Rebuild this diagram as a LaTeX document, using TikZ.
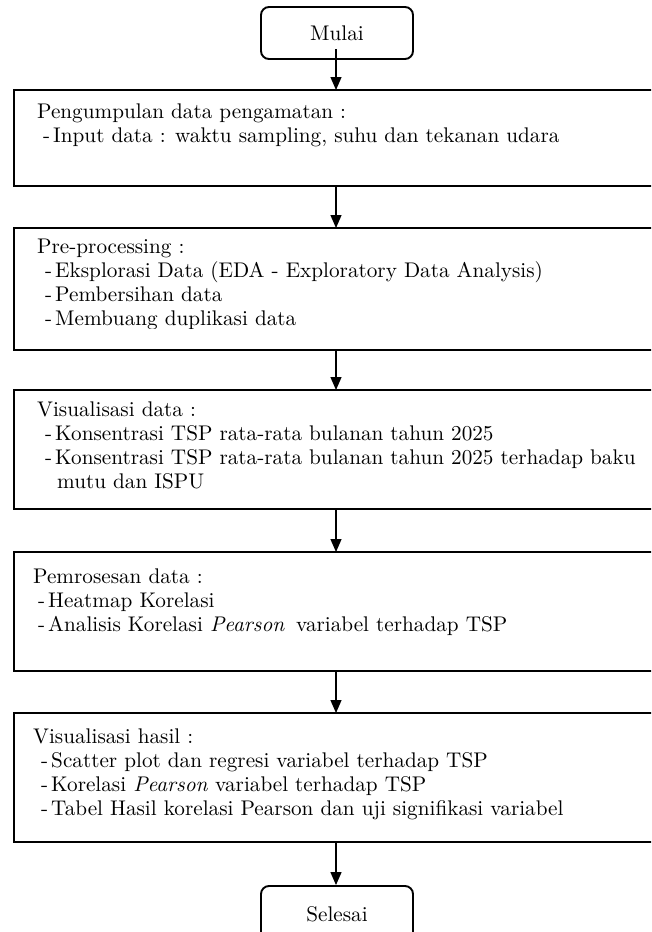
\documentclass[tikz,border=0pt]{standalone}
\usepackage{fontspec}
\setmainfont{lmroman10-regular.otf}[ItalicFont=lmroman10-italic.otf, BoldFont=lmroman10-bold.otf]
\usetikzlibrary{arrows.meta}
\begin{document}
\begin{tikzpicture}[x=1pt,y=-1pt,
  box/.style={draw, line width=1.9pt, rectangle, anchor=north west, inner sep=0pt, outer sep=0pt, minimum width=680pt},
  term/.style={draw, line width=1.9pt, rounded corners=8pt, minimum width=152pt, minimum height=52pt, inner sep=0pt, font=\fontsize{21.2}{24}\selectfont},
  txt/.style={anchor=base west, inner sep=0pt, font=\fontsize{21.2}{24}\selectfont},
  arr/.style={line width=1.3pt, -{Triangle[width=11pt,length=13pt]}}]
\useasboundingbox (0,0) rectangle (651,932);
\clip (0,0) rectangle (651,932);
\coordinate (ax) at (336,0);
% terminals
\node[term] (start) at (337,33) {Mulai};
\coordinate (s0) at (336,49);
\node[term, minimum height=60pt] (end) at (337,916) {\raisebox{3pt}{Selesai}};
% process boxes
\node[box, minimum height=96pt] (b1) at (14,90) {};
\node[box, minimum height=122pt] (b2) at (14,228) {};
\node[box, minimum height=119pt] (b3) at (14,390) {};
\node[box, minimum height=119pt] (b4) at (14,552) {};
\node[box, minimum height=129pt] (b5) at (14,713) {};
% texts box 1
\node[txt] (t11) at (37,118) {Pengumpulan data pengamatan :};
\node[txt] (t12) at (43,142) {-\hspace{3pt}Input data : waktu sampling, suhu dan tekanan udara};
% box 2
\node[txt] (t21) at (37,253) {Pre-processing :};
\node[txt] (t22) at (45,277) {-\hspace{3pt}Eksplorasi Data (EDA - Exploratory Data Analysis)};
\node[txt] (t23) at (45,301) {-\hspace{3pt}Pembersihan data};
\begin{scope}
\clip (0,0) rectangle (651,328);
\node[txt] (t24) at (45,325) {-\hspace{3pt}Membuang duplikasi data};
\end{scope}
% box 3
\node[txt] (t31) at (37,416) {Visualisasi data :};
\node[txt] (t32) at (45,440) {-\hspace{3pt}Konsentrasi TSP rata-rata bulanan tahun 2025};
\node[txt] (t33) at (45,464) {-\hspace{3pt}Konsentrasi TSP rata-rata bulanan tahun 2025 terhadap baku};
\node[txt] (t34) at (57,488) {mutu dan ISPU};
% box 4
\node[txt] (t41) at (33,583) {Pemrosesan data :};
\node[txt] (t42) at (38,607) {-\hspace{3pt}Heatmap Korelasi};
\node[txt] (t43) at (38,631) {-\hspace{3pt}Analisis Korelasi \textit{Pearson}\hspace{0.2em} variabel terhadap TSP};
% box 5
\node[txt] (t51) at (33,743) {Visualisasi hasil :};
\node[txt] (t52) at (41,767) {-\hspace{3pt}Scatter plot dan regresi variabel terhadap TSP};
\node[txt] (t53) at (41,791) {-\hspace{3pt}Korelasi \textit{Pearson} variabel terhadap TSP};
\node[txt] (t54) at (41,815) {-\hspace{3pt}Tabel Hasil korelasi Pearson dan uji signifikasi variabel};
% arrows
\draw[arr] (s0) -- (b1.north -| ax);
\draw[arr] (b1.south -| ax) -- (b2.north -| ax);
\draw[arr] (b2.south -| ax) -- (b3.north -| ax);
\draw[arr] (b3.south -| ax) -- (b4.north -| ax);
\draw[arr] (b4.south -| ax) -- (b5.north -| ax);
\draw[arr] (b5.south -| ax) -- (end.north -| ax);
\end{tikzpicture}
\end{document}
